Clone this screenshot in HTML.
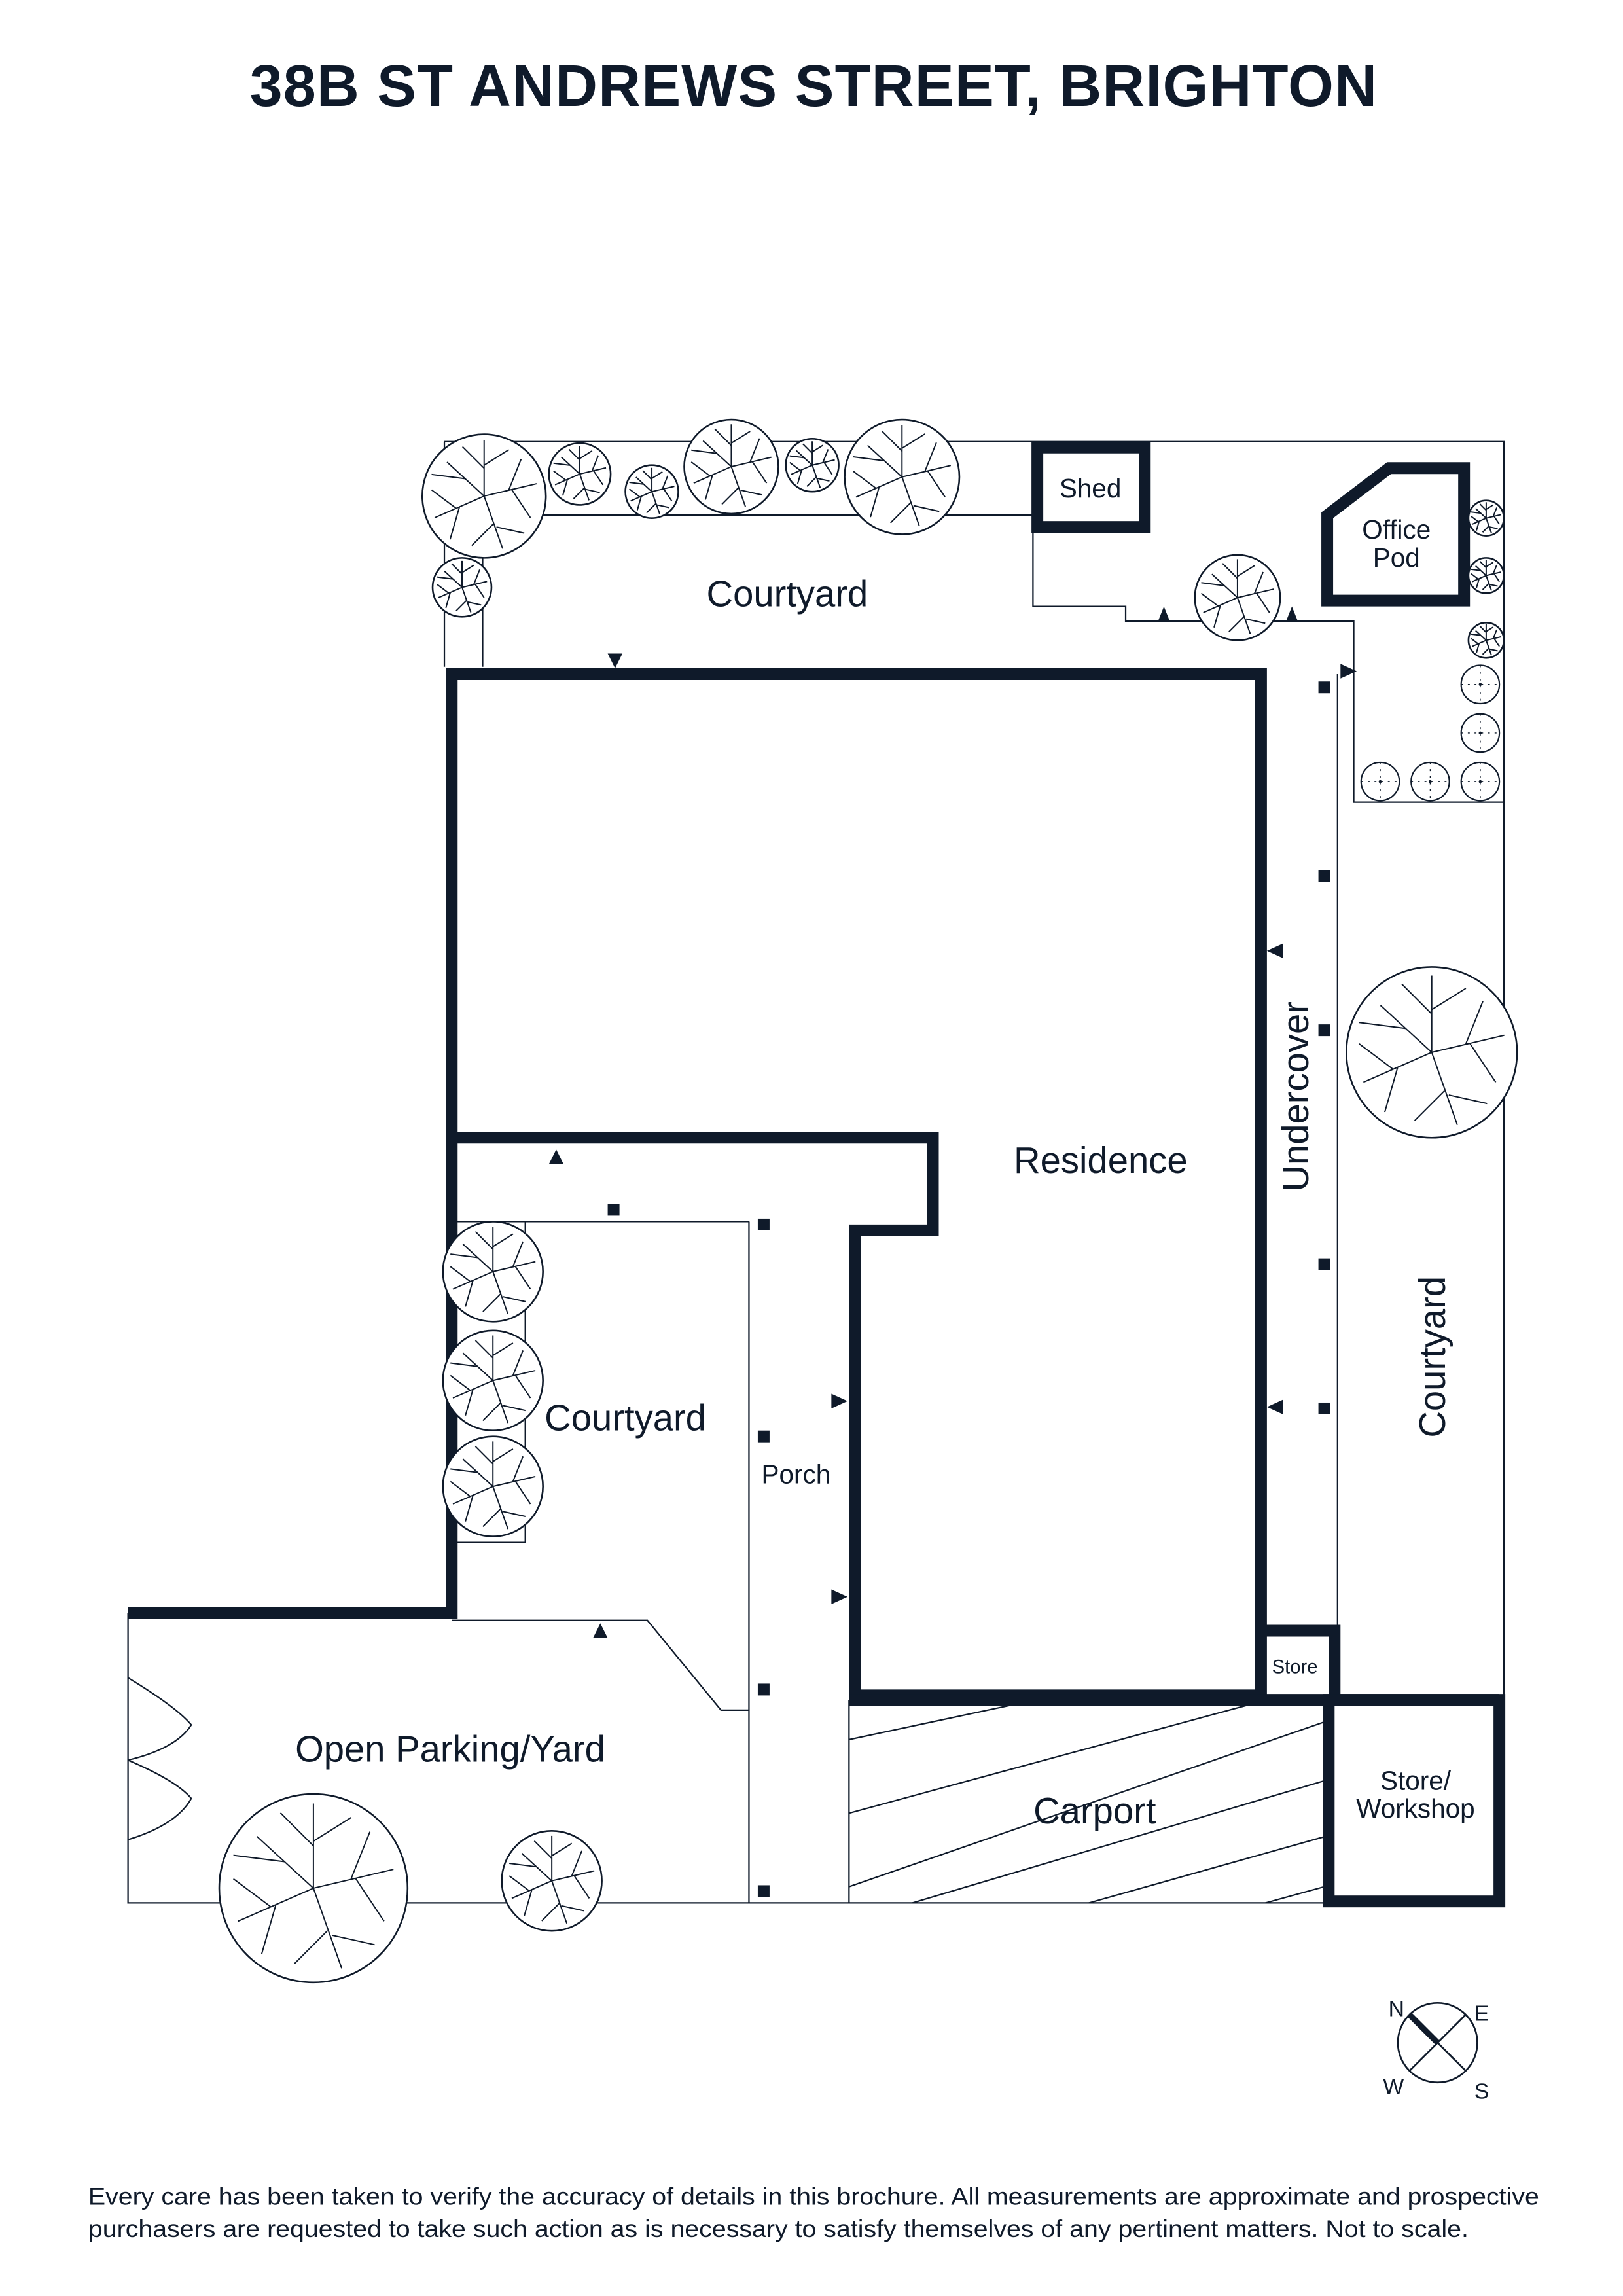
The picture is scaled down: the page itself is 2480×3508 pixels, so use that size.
<!DOCTYPE html>
<html><head><meta charset="utf-8"><style>
html,body{margin:0;padding:0;background:#fff}
svg{display:block}
text{font-family:"Liberation Sans",sans-serif;fill:#0f1a2a}
</style></head><body>
<svg width="2480" height="3508" viewBox="0 0 1103 1560" xmlns="http://www.w3.org/2000/svg">
<defs>
<g id="tree">
<circle r="1" fill="#fff" stroke="#0f1a2a" stroke-width="2.6" vector-effect="non-scaling-stroke"/>
<g stroke="#0f1a2a" stroke-width="2" fill="none">
<path vector-effect="non-scaling-stroke" d="M0,0 L0,-0.9 M0,-0.45 L-0.35,-0.8 M0,-0.5 L0.4,-0.75"/>
<path vector-effect="non-scaling-stroke" d="M0,0 L0.85,-0.2 M0.45,-0.1 L0.75,0.35 M0.4,-0.1 L0.6,-0.6"/>
<path vector-effect="non-scaling-stroke" d="M0,0 L0.3,0.85 M0.15,0.45 L-0.2,0.8 M0.2,0.5 L0.65,0.6"/>
<path vector-effect="non-scaling-stroke" d="M0,0 L-0.8,0.35 M-0.4,0.18 L-0.55,0.7 M-0.45,0.2 L-0.85,-0.1"/>
<path vector-effect="non-scaling-stroke" d="M0,0 L-0.6,-0.55 M-0.3,-0.28 L-0.85,-0.35"/>
</g>
</g>
<g id="shrub">
<circle r="1" fill="#fff" stroke="#0f1a2a" stroke-width="2.2" vector-effect="non-scaling-stroke"/>
<path d="M0,-1 L0,1 M-1,0 L1,0" stroke="#0f1a2a" stroke-width="0.05" stroke-dasharray="0.1 0.25"/>
<circle r="0.08" fill="#0f1a2a"/>
</g>
</defs>

<text x="553" y="72" font-size="40" font-weight="bold" text-anchor="middle" letter-spacing="0.5">38B ST ANDREWS STREET, BRIGHTON</text>

<g stroke="#0f1a2a" stroke-width="1" fill="none">
<path d="M302,300 L1022,300 L1022,1152"/>
<path d="M302,300 L302,453 M328,350 L328,453 M328,350 L702,350"/>
<path d="M702,358 L702,412 L765,412 L765,422 L920,422 L920,545 L1022,545"/>
<path d="M909,458 L909,1108"/>
<path d="M87,1096 L87,1293 L903,1293"/>
<path d="M509,830 L509,1293 M577,1155 L577,1293"/>
<path d="M307,830 L509,830 M357,830 L357,1048 L307,1048"/>
<path d="M307,1101 L440,1101 L490,1162 L509,1162"/>
<path d="M87,1140 Q120,1160 130,1172 Q120,1188 87,1196 M87,1196 Q120,1210 130,1222 Q120,1240 87,1250"/>
<path d="M577,1182 L690,1158 M577,1232 L850,1158 M577,1282 L900,1170 M620,1293 L900,1210 M740,1293 L900,1248 M860,1293 L900,1282"/>
</g>

<g stroke="#0f1a2a" stroke-width="8" fill="none" stroke-linejoin="miter">
<path d="M87,1096 L307,1096 L307,458 L857,458 L857,1152 L581,1152 L581,836 L634,836 L634,773 L307,773"/>
<path d="M577,1155 L1019,1155"/>
<path d="M857,1108 L907,1108 L907,1152"/>
<rect x="903" y="1155" width="116" height="137"/>
<rect x="705" y="304" width="73" height="54"/>
<path d="M944,318 L995,318 L995,408 L902,408 L902,350 Z"/>
</g>

<g fill="#0f1a2a">
<rect x="896" y="463" width="8" height="8"/><rect x="896" y="591" width="8" height="8"/>
<rect x="896" y="696" width="8" height="8"/><rect x="896" y="855" width="8" height="8"/>
<rect x="896" y="953" width="8" height="8"/>
<rect x="413" y="818" width="8" height="8"/><rect x="515" y="828" width="8" height="8"/>
<rect x="515" y="972" width="8" height="8"/><rect x="515" y="1144" width="8" height="8"/>
<rect x="515" y="1281" width="8" height="8"/>
<path d="M413,444 L423,444 L418,454 Z"/>
<path d="M373,791 L383,791 L378,781 Z"/>
<path d="M403,1113 L413,1113 L408,1103 Z"/>
<path d="M565,947 L565,957 L576,952 Z"/>
<path d="M565,1080 L565,1090 L576,1085 Z"/>
<path d="M872,641 L872,651 L861,646 Z"/>
<path d="M872,951 L872,961 L861,956 Z"/>
<path d="M911,451 L911,461 L922,456 Z"/>
<path d="M787,422 L795,422 L791,412 Z"/>
<path d="M874,422 L882,422 L878,412 Z"/>
</g>

<g>
<use href="#tree" transform="translate(329,337) scale(42)"/>
<use href="#tree" transform="translate(394,322) scale(21)"/>
<use href="#tree" transform="translate(443,334) scale(18)"/>
<use href="#tree" transform="translate(497,317) scale(32)"/>
<use href="#tree" transform="translate(552,316) scale(18)"/>
<use href="#tree" transform="translate(613,324) scale(39)"/>
<use href="#tree" transform="translate(314,399) scale(20)"/>
<use href="#tree" transform="translate(841,406) scale(29)"/>
<use href="#tree" transform="translate(1010,352) scale(12)"/>
<use href="#tree" transform="translate(1010,391) scale(12)"/>
<use href="#tree" transform="translate(1010,435) scale(12)"/>
<use href="#tree" transform="translate(973,715) scale(58)"/>
<use href="#tree" transform="translate(335,864) scale(34)"/>
<use href="#tree" transform="translate(335,938) scale(34)"/>
<use href="#tree" transform="translate(335,1010) scale(34)"/>
<use href="#tree" transform="translate(213,1283) scale(64)"/>
<use href="#tree" transform="translate(375,1278) scale(34)"/>
<use href="#shrub" transform="translate(1006,465) scale(13)"/>
<use href="#shrub" transform="translate(1006,498) scale(13)"/>
<use href="#shrub" transform="translate(1006,531) scale(13)"/>
<use href="#shrub" transform="translate(938,531) scale(13)"/>
<use href="#shrub" transform="translate(972,531) scale(13)"/>
</g>

<g font-size="25">
<text x="535" y="412" text-anchor="middle">Courtyard</text>
<text x="748" y="797" text-anchor="middle">Residence</text>
<text x="425" y="972" text-anchor="middle">Courtyard</text>
<text x="306" y="1197" text-anchor="middle">Open Parking/Yard</text>
<text x="744" y="1239" text-anchor="middle">Carport</text>
<text transform="translate(889,745) rotate(-90)" text-anchor="middle">Undercover</text>
<text transform="translate(982,922) rotate(-90)" text-anchor="middle">Courtyard</text>
</g>
<g font-size="18">
<text x="741" y="338" text-anchor="middle">Shed</text>
<text x="949" y="366" text-anchor="middle">Office</text>
<text x="949" y="385" text-anchor="middle">Pod</text>
<text x="541" y="1008" text-anchor="middle">Porch</text>
<text x="962" y="1216" text-anchor="middle">Store/</text>
<text x="962" y="1235" text-anchor="middle">Workshop</text>
</g>
<text x="880" y="1137" font-size="13" text-anchor="middle">Store</text>

<g stroke="#0f1a2a" fill="none">
<circle cx="977" cy="1388" r="27" stroke-width="1.2"/>
<path d="M958,1369 L996,1407" stroke-width="1.2"/>
<path d="M996,1369 L958,1407" stroke-width="1.2"/>
<path d="M958,1369 L977,1388" stroke-width="4"/>
</g>
<g font-size="15">
<text x="949" y="1370" text-anchor="middle">N</text>
<text x="1007" y="1373" text-anchor="middle">E</text>
<text x="947" y="1423" text-anchor="middle">W</text>
<text x="1007" y="1426" text-anchor="middle">S</text>
</g>

<g font-size="16.5">
<text x="60" y="1498" textLength="986" lengthAdjust="spacingAndGlyphs">Every care has been taken to verify the accuracy of details in this brochure. All measurements are approximate and prospective</text>
<text x="60" y="1520" textLength="938" lengthAdjust="spacingAndGlyphs">purchasers are requested to take such action as is necessary to satisfy themselves of any pertinent matters. Not to scale.</text>
</g>
</svg>
</body></html>
